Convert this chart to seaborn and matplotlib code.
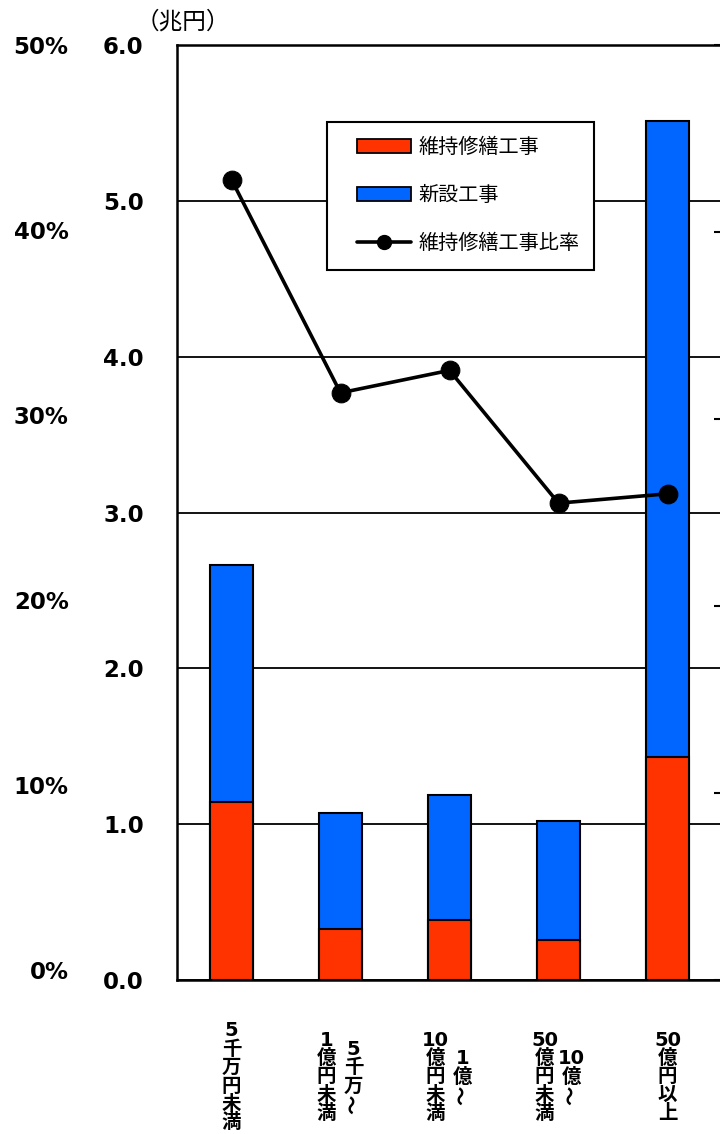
import re
import numpy as np
import pandas as pd
import matplotlib
matplotlib.use("Agg")
import matplotlib.pyplot as plt
import matplotlib.transforms as mtransforms
from matplotlib.patches import Patch
from matplotlib.lines import Line2D
from matplotlib.legend_handler import HandlerBase, HandlerPatch, HandlerLine2D
import seaborn as sns

# ---- data -------------------------------------------------------------
categories = ["5千万円未満", "5千万～1億円未満", "1億～10億円未満",
              "10億～50億円未満", "50億円以上"]
# vertical label columns, in reading order (right column first)
label_columns = [["5千万円未満"], ["5千万～", "1億円未満"], ["1億～", "10億円未満"],
                 ["10億～", "50億円未満"], ["50億円以上"]]
maintenance = [1.14, 0.33, 0.385, 0.257, 1.43]      # 維持修繕工事 (兆円)
new_build = [1.52, 0.74, 0.805, 0.763, 4.08]        # 新設工事 (兆円)
ratio = [42.8, 31.4, 32.6, 25.5, 26.0]              # 維持修繕工事比率 (%)
value_ticks = [0, 1, 2, 3, 4, 5, 6]
pct_ticks = [0, 10, 20, 30, 40, 50]

RED = "#FF3300"
BLUE = "#0066FF"
W, H = 720, 1134

sns.set_theme(style="white")
plt.rcParams["font.family"] = ["DejaVu Sans", "Noto Sans CJK JP"]
plt.rcParams["text.color"] = "black"
plt.rcParams["xtick.color"] = "black"
plt.rcParams["ytick.color"] = "black"

df = pd.DataFrame({"category": categories,
                   "maintenance": maintenance,
                   "total": np.array(maintenance) + np.array(new_build)})

fig = plt.figure(figsize=(W / 100, H / 100), dpi=100)

# percentage labels on the far left
ax3 = fig.add_axes([177 / W, (H - 970) / H, 545 / W, 925 / H])
ax3.set_ylim(0, 50)
ax3.set_yticks(pct_ticks)
ax3.set_yticklabels([f"{v}%" for v in pct_ticks], fontsize=16.5, fontweight="bold")
ax3.set_xticks([])
ax3.tick_params(axis="y", length=0, pad=78, labelcolor="black")
for s in ax3.spines.values():
    s.set_visible(False)
ax3.patch.set_alpha(0)

# main axes: stacked bars
ax = fig.add_axes([177 / W, (H - 980) / H, 545 / W, 935 / H])
sns.barplot(data=df, x="category", y="total", color=BLUE, width=0.4,
            edgecolor="black", linewidth=1.5, saturation=1, errorbar=None, ax=ax)
sns.barplot(data=df, x="category", y="maintenance", color=RED, width=0.4,
            edgecolor="black", linewidth=1.5, saturation=1, errorbar=None, ax=ax)
ax.set_xlim(-0.5, 4.5)
ax.set_ylim(0, 6)
ax.set_yticks(value_ticks)
ax.set_yticklabels([f"{v:.1f}" for v in value_ticks], fontsize=16.5, fontweight="bold")
ax.tick_params(axis="y", length=0, pad=24, labelcolor="black")
ax.set_xticks(range(len(categories)))
ax.set_xticklabels([""] * len(categories))
ax.tick_params(axis="x", length=0)
ax.set_xlabel("")
ax.set_ylabel("")
ax.yaxis.grid(True, color="black", linewidth=1.3)
ax.set_axisbelow(True)
for s in ax.spines.values():
    s.set_color("black")
    s.set_linewidth(1.8)

# ratio line on a twin axis
ax2 = ax.twinx()
ax2.set_ylim(0, 50)
sns.lineplot(x=np.arange(len(categories)), y=ratio, ax=ax2, color="black",
             linewidth=2.6, marker="o", markersize=13.5, markeredgecolor="black",
             legend=False)
ax2.set_yticks(pct_ticks)
ax2.tick_params(axis="y", direction="in", length=6, width=1.5, labelright=False)
ax2.set_ylabel("")
for s in ax2.spines.values():
    s.set_visible(False)

# unit label
fig.text(136 / W, 1 - 22 / H, "（兆円）", fontsize=17, va="center", ha="left",
         family=["Noto Sans CJK JP"])


class ShiftedHandler(HandlerBase):
    """Draws the wrapped handler only in the right part of the handle box."""

    def __init__(self, inner, shift_px):
        super().__init__()
        self.inner = inner
        self.shift = shift_px

    def create_artists(self, legend, orig_handle, xdescent, ydescent,
                       width, height, fontsize, trans):
        s = self.shift * 72 / 100
        return self.inner.create_artists(legend, orig_handle, xdescent - s, ydescent,
                                         width - s, height, fontsize, trans)


# legend
leg_size = 14.5
h_red = Patch(facecolor=RED, edgecolor="black", linewidth=1.3)
h_blue = Patch(facecolor=BLUE, edgecolor="black", linewidth=1.3)
h_line = Line2D([], [], color="black", linewidth=2.6, marker="o", markersize=10)
labels = ["維持修繕工事", "新設工事", "維持修繕工事比率"]
shift_px = 15
handle_px = 54 + shift_px
leg = ax2.legend([h_red, h_blue, h_line], labels, loc="upper left",
                 bbox_to_anchor=(327 / W, 1 - 122 / H), bbox_transform=fig.transFigure,
                 borderaxespad=0, fancybox=False, framealpha=1, edgecolor="black",
                 prop={"family": "Noto Sans CJK JP", "size": leg_size},
                 handlelength=handle_px / (leg_size * 100 / 72), handleheight=0.7,
                 handletextpad=0.35, labelspacing=1.35, borderpad=0.75,
                 handler_map={h_red: ShiftedHandler(HandlerPatch(), shift_px),
                              h_blue: ShiftedHandler(HandlerPatch(), shift_px),
                              h_line: ShiftedHandler(HandlerLine2D(), shift_px)})
leg.get_frame().set_linewidth(1.5)

# vertical category labels
row_pitch = 18.4
center_y = 1077
col_offsets = {1: [0], 2: [13, -14]}
base = mtransforms.blended_transform_factory(ax.transData, fig.transFigure)
for i, cols in enumerate(label_columns):
    offs = col_offsets[len(cols)]
    for col, dx in zip(cols, offs):
        rows = re.findall(r"[0-9]+|.", col)
        n = len(rows)
        for j, r in enumerate(rows):
            y_px = center_y + (j - (n - 1) / 2) * row_pitch
            tr = base + mtransforms.ScaledTranslation(dx / 100, 0, fig.dpi_scale_trans)
            ax.text(i, 1 - y_px / H, r, transform=tr, ha="center", va="center",
                    fontsize=14, fontweight="bold", color="black",
                    rotation=90 if r == "～" else 0,
                    family=["DejaVu Sans", "Noto Sans CJK JP"], clip_on=False)

fig.savefig("out.png", dpi=100)
